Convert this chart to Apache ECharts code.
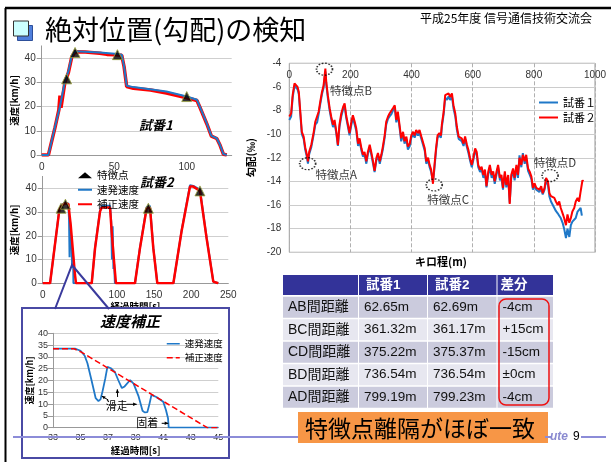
<!DOCTYPE html>
<html><head><meta charset="utf-8">
<script src="https://cdn.jsdelivr.net/npm/echarts@6/dist/echarts.min.js"></script>
<style>html,body{margin:0;padding:0;background:#fff}#c{width:611px;height:462px}</style>
</head><body><div id="c"></div>
<script>
// ================= DATA =================
// 試番1 (top-left) : [time s, speed km/h]
const run1Tacho = [[0,0],[4.6,0],[9.2,11.7],[12.6,20],[16,30.3],[18.4,34.5],[20.7,40.7],[23,42.8],[40,42.3],[50.6,41.8],[55.2,41.4],[56.8,36.5],[58.6,28.6],[63.2,28],[86,26.2],[100,24.1],[107,22.8],[109,20],[113.8,13.1],[117,7.9],[120.7,6.9],[123,4.1],[125.3,0.4],[127.6,0]];
const run1Corr = [[0,0],[4.6,0],[9.2,11.4],[11.8,18.5],[12.6,24.5],[13.3,19.5],[16,30],[18.4,34],[20.7,40.4],[23,42.6],[30,42.5],[40,42],[45,41.5],[50.6,41.3],[55.2,41.1],[56.8,36.4],[58.6,28.2],[63.2,27.5],[75,26.8],[86,25.6],[100,23.6],[107,22.5],[109,19.8],[113.8,12.9],[117,7.8],[120.7,6.8],[123,4],[125.3,0.3],[127.6,0]];
const run1Feat = [[17.2,31.4],[23,42.3],[52.2,41.4],[100,24.1]];

// 試番2 (middle-left)
const run2Tacho = [[0,0],[9.9,0],[22.4,31],[24.7,32.6],[30,34],[34.6,33.5],[35.5,27],[36.2,11],[36.9,26],[37.5,23],[38,17],[38.6,20],[39.2,13],[39.6,6.5],[40.2,14],[41,11],[41.4,0],[66,0],[70.5,15],[77.2,30.6],[79.4,32.6],[90.7,32.6],[92.3,26],[93.3,10],[94.2,24],[95.3,6],[96.3,8],[97.3,0],[124.3,0],[131,15],[140,32],[144.5,32.6],[149,15],[154.4,0],[176,0],[187,22],[198.4,41.3],[202.9,41],[211.8,39.4],[220.8,19.2],[229.8,0.7],[232,0],[236.5,0]];
const run2Corr = [[0,0],[9.9,0],[22.4,30.9],[24.7,32.3],[30,33.7],[34.6,33.3],[37.7,24.6],[40.4,14.7],[43.5,3.5],[44.9,0],[66,0],[70.5,14.7],[77.2,30.2],[79.4,31.9],[90.7,31.9],[92.9,21.8],[96.5,7.7],[98.7,0],[124.3,0],[131,14.7],[140,31.6],[144.5,31.9],[149,14.7],[154.4,0],[176,0],[187,21.8],[198.4,40.7],[202.9,40.7],[211.8,38.9],[220.8,18.9],[229.8,0.7],[232,0],[236.5,0]];
const run2Feat = [[24.7,31.6],[30.6,33.3],[142.3,31.6],[211.8,38.9]];

// 速度補正 (inset)
const zoomTacho = [[33,33.5],[34.6,33.5],[35.0,32.6],[35.3,30.5],[35.5,27.3],[35.8,20],[36.1,12.5],[36.3,11.3],[36.45,12],[36.6,15.5],[36.8,21],[36.95,25.8],[37.2,25.2],[37.5,23.5],[37.75,20],[38.0,16.8],[38.2,17.5],[38.6,20.2],[38.85,18.7],[39.2,13.5],[39.5,7.2],[39.65,6.5],[39.85,6.6],[40.0,10],[40.15,13.9],[40.5,13],[41.0,11],[41.2,7.5],[41.35,4],[41.4,0],[45,0]];
const zoomCorr = [[33,33.5],[34.5,33.5],[35,32.2],[44.2,0],[45,0]];

// 勾配 (right) : [キロ程 m, 勾配 ‰]
const grad2 = [[0,-8.5],[6,-8.25],[11,-6.7],[17,-5.7],[22,-5.6],[27,-6.0],[31,-6.4],[36,-8.1],[41,-9.8],[47,-10.2],[52,-11.1],[58,-11.8],[61,-12.3],[65,-11.5],[72,-10.9],[80,-9.8],[85,-8.95],[91,-8.8],[96,-8.1],[101,-7.3],[107,-6.4],[112,-5.9],[118,-4.45],[121,-5.6],[126,-6.7],[132,-7.8],[137,-8.5],[143,-9.2],[148,-8.8],[154,-9.8],[159,-10.9],[164,-9.2],[170,-8.25],[176,-7.7],[181,-7.4],[186,-8.4],[192,-9.2],[197,-9.9],[203,-8.95],[208,-8.4],[214,-8.95],[219,-9.5],[225,-10.8],[230,-10.35],[236,-11.2],[241,-11.75],[246,-11.5],[252,-12.3],[257,-11.5],[263,-10.9],[268,-11.5],[274,-12.3],[279,-13.1],[285,-12.0],[290,-11.6],[296,-12.3],[301,-11.75],[306,-11.05],[312,-10.1],[317,-8.95],[323,-8.5],[328,-8.25],[334,-8.1],[339,-7.8],[345,-7.55],[350,-8.8],[355,-8.1],[361,-9.3],[366,-10.35],[372,-9.8],[377,-10.6],[383,-10.2],[388,-11.05],[394,-10.8],[399,-10.1],[405,-9.8],[410,-10.1],[415,-9.65],[421,-9.9],[426,-9.65],[432,-10.2],[437,-10.1],[443,-11.2],[448,-12.3],[454,-12.0],[459,-12.6],[464,-13.0],[470,-14.2],[474,-12.9],[480,-11.2],[485,-10.1],[491,-9.9],[496,-10.1],[499,-9.2],[505,-8.1],[510,-6.7],[516,-6.85],[521,-6.55],[526,-6.85],[532,-6.55],[537,-7.55],[543,-8.25],[548,-9.35],[554,-10.2],[559,-10.1],[564,-10.35],[570,-10.8],[575,-10.2],[581,-10.9],[586,-11.35],[591,-12.0],[597,-12.6],[602,-12.0],[608,-11.2],[613,-11.5],[618,-12.6],[624,-13.0],[629,-12.75],[635,-13.45],[640,-13.0],[645,-14.4],[651,-13.15],[656,-12.6],[662,-13.45],[667,-13.15],[672,-14.0],[678,-13.15],[683,-12.6],[689,-13.7],[694,-13.45],[699,-14.55],[705,-13.15],[710,-14.3],[716,-13.45],[721,-15.9],[726,-13.45],[732,-12.9],[737,-13.7],[743,-12.6],[748,-13.45],[753,-12.0],[759,-12.6],[764,-11.75],[770,-12.3],[775,-11.75],[781,-12.9],[786,-13.15],[792,-13.6],[797,-14.55],[802,-14.15],[808,-14.55],[813,-14.4],[818,-14.7],[824,-14.4],[829,-15.0],[835,-14.55],[840,-13.7],[846,-14.0],[851,-15.0],[856,-15.25],[862,-15.4],[867,-15.4],[872,-15.7],[878,-16.0],[883,-15.7],[888,-16.25],[894,-16.7],[899,-17.1],[905,-17.7],[910,-16.8],[916,-17.5],[921,-17.1],[926,-16.55],[932,-16.25],[937,-15.7],[943,-15.4],[948,-15.7],[953,-14.85],[959,-13.9],[962,-14.0]];
const grad1 = [[0,-8.8],[6,-8.5],[11,-6.9],[17,-5.9],[22,-5.8],[27,-6.2],[31,-6.6],[36,-8.3],[41,-10.0],[47,-10.4],[52,-11.3],[58,-12.0],[61,-12.5],[65,-11.7],[72,-11.1],[80,-10.0],[85,-9.2],[91,-9.0],[96,-8.3],[101,-7.5],[107,-6.6],[112,-6.1],[118,-4.7],[121,-5.8],[126,-6.9],[132,-8.0],[137,-8.7],[143,-9.4],[148,-9.0],[154,-10.0],[159,-11.0],[164,-9.4],[170,-8.5],[176,-7.9],[181,-7.6],[186,-8.6],[192,-9.4],[197,-10.1],[203,-9.2],[208,-8.6],[214,-9.2],[219,-9.7],[225,-11.0],[230,-10.6],[236,-11.4],[241,-11.9],[246,-11.7],[252,-12.5],[257,-11.7],[263,-11.1],[268,-11.7],[274,-12.5],[279,-13.2],[285,-12.2],[290,-11.8],[296,-12.5],[301,-11.9],[306,-11.3],[312,-10.3],[317,-9.2],[323,-8.7],[328,-8.5],[334,-8.3],[339,-8.0],[345,-7.8],[350,-9.0],[355,-8.3],[361,-9.5],[366,-10.6],[372,-10.0],[377,-10.8],[383,-10.4],[388,-11.3],[394,-11.0],[399,-10.3],[405,-10.0],[410,-10.3],[415,-9.9],[421,-10.1],[426,-9.9],[432,-10.4],[437,-10.3],[443,-11.4],[448,-12.5],[454,-12.2],[459,-12.8],[464,-13.2],[470,-14.0],[474,-13.1],[480,-11.4],[485,-10.3],[491,-10.1],[496,-10.3],[499,-9.4],[505,-8.3],[510,-6.9],[516,-7.1],[521,-6.8],[526,-7.1],[532,-6.8],[537,-7.8],[543,-8.5],[548,-9.6],[554,-10.4],[559,-10.3],[564,-10.6],[570,-11.0],[575,-10.4],[581,-11.1],[586,-11.6],[591,-12.2],[597,-12.8],[602,-12.2],[608,-11.4],[613,-11.7],[618,-12.8],[624,-13.2],[629,-13.0],[635,-13.7],[640,-13.2],[645,-14.5],[651,-13.4],[656,-12.8],[662,-13.7],[667,-13.4],[672,-14.2],[678,-13.4],[683,-12.8],[689,-13.9],[694,-13.7],[699,-14.7],[705,-13.4],[710,-14.5],[716,-13.7],[721,-15.8],[726,-13.7],[732,-13.1],[737,-13.9],[743,-12.8],[748,-13.7],[753,-11.8],[759,-12.8],[764,-11.6],[770,-12.5],[775,-12.0],[781,-13.1],[786,-13.4],[792,-13.8],[797,-14.7],[802,-14.4],[808,-14.7],[813,-14.6],[818,-14.9],[824,-14.6],[829,-15.1],[835,-14.7],[840,-13.9],[846,-14.3],[851,-15.3],[856,-15.7],[862,-16.0],[867,-16.25],[872,-16.5],[878,-16.7],[883,-16.9],[888,-17.1],[894,-17.5],[899,-18.0],[905,-18.8],[910,-18.0],[916,-18.7],[921,-17.7],[926,-17.4],[932,-17.3],[937,-17.1],[943,-16.55],[948,-16.7],[953,-16.25],[957,-16.9]];

// 特徴点 on gradient chart
const featLabels = ['特徴点A','特徴点B','特徴点C','特徴点D'];
const featKiro = [60, 115, 474, 853];
const featGrad = [-12.5, -4.5, -14.3, -13.5];

// Table
const tableHead = ['', '試番1', '試番2', '差分'];
const tableRows = ['AB間距離','BC間距離','CD間距離','BD間距離','AD間距離'];
const trial1Dist = ['62.65m','361.32m','375.22m','736.54m','799.19m'];
const trial2Dist = ['62.69m','361.17m','375.37m','736.54m','799.23m'];
const distDiff = ['-4cm','+15cm','-15cm','±0cm','-4cm'];

// ================= STYLE / LAYOUT =================
const JP = '"Noto Sans CJK JP", "Noto Sans", sans-serif';
const NUM = '"Liberation Sans", Arial, "Noto Sans CJK JP", sans-serif';
const BLUE = '#1f78c8', RED = '#ff0000';
const featOffsets = [[28.5,10.5],[26.5,21],[14,15],[5,-13]];

function T(text, x, y, size, o) {
  o = o || {};
  return { type: 'text', z: o.z || 10, style: {
    text: text, x: x, y: y,
    font: (o.style || 'normal') + ' ' + (o.weight || 'normal') + ' ' + size + 'px ' + (o.family || JP),
    fill: o.fill || '#000', textAlign: o.align || 'left', textVerticalAlign: 'middle' } };
}
function L(pts, color, w, z) {
  return { type: 'polyline', z: z || 10, shape: { points: pts }, style: { stroke: color, lineWidth: w, fill: null } };
}
function R(x, y, w, h, fill, o) {
  o = o || {};
  return { type: 'rect', z: o.z || 1, shape: { x: x, y: y, width: w, height: h, r: o.r || 0 },
    style: { fill: fill, stroke: o.stroke || null, lineWidth: o.lw || 0 } };
}
function arrow(x1, y1, x2, y2) {
  const a = Math.atan2(y2 - y1, x2 - x1), s = 4;
  const p1 = [x2 - s * Math.cos(a - 0.45), y2 - s * Math.sin(a - 0.45)];
  const p2 = [x2 - s * Math.cos(a + 0.45), y2 - s * Math.sin(a + 0.45)];
  return [L([[x1, y1], [x2, y2]], '#000', 1, 10),
    { type: 'polygon', z: 10, shape: { points: [[x2, y2], p1, p2] }, style: { fill: '#000' } }];
}

const graphics = [];
// slide frame
graphics.push(L([[5, 8], [611, 8]], '#000', 2.5, 0));
graphics.push(L([[5.5, 8], [5.5, 462]], '#000', 2, 0));
// title icon + title
graphics.push(R(17.5, 25.5, 15, 15, '#4f7fdc', { stroke: '#2d4f9a', lw: 1, z: 1 }));
graphics.push(R(13.5, 21, 15, 15, '#ccffff', { stroke: '#333', lw: 1, z: 2 }));
graphics.push(T('絶対位置(勾配)の検知', 45, 30, 27));
graphics.push(T('平成25年度 信号通信技術交流会', 420, 18, 12));
// footer
graphics.push(L([[13, 437], [298, 437]], '#8c8cd8', 2, 0));
graphics.push(L([[545, 437], [551, 437]], '#8c8cd8', 2, 0));
graphics.push(L([[581, 437], [606, 437]], '#8c8cd8', 2, 0));
graphics.push(T('ute', 550, 437, 12, { style: 'italic', weight: 'bold', fill: '#8a8ad0', family: NUM }));
graphics.push(T('9', 573, 437, 12, { family: NUM }));
// callout from chart 2 into inset
graphics.push({ type: 'polygon', z: 3, shape: { points: [[72, 265], [55, 308], [109, 308]] }, style: { fill: '#fff' } });
graphics.push(L([[55, 309], [72, 265], [109, 309]], '#3a3a9c', 2, 5));
graphics.push(R(22, 308, 207, 150, '#fff', { stroke: '#4a4aa4', lw: 2, z: 4 }));
// chart captions
graphics.push(T('試番1', 139, 125, 13, { style: 'italic', weight: 'bold' }));
graphics.push(T('試番2', 140, 182, 13, { style: 'italic', weight: 'bold' }));
graphics.push(T('速度補正', 100, 321, 15, { style: 'italic', weight: 'bold' }));
// inset annotations
graphics.push(T('滑走', 116.7, 406, 11, { align: 'center' }));
graphics.push(T('固着', 147.3, 423.3, 11, { align: 'center' }));
graphics.push(...arrow(108.3, 400, 101.7, 396));
graphics.push(...arrow(117.6, 397, 117.3, 389.3));
graphics.push(...arrow(126.7, 404.3, 136.7, 404.3));
graphics.push(...arrow(161.7, 423.3, 168.3, 423.3));
// right chart x-axis name
graphics.push(T('キロ程(m)', 441, 262, 11, { weight: 'bold', align: 'center' }));

// table
const colX = [283, 358, 427, 496.5, 553];
const headY = 275, headH = 20, rowY0 = 296.7, rowH = 21, rowStep = 22.5;
for (let c = 0; c < 4; c++) {
  graphics.push(R(colX[c] + (c ? 1 : 0), headY, colX[c + 1] - colX[c] - (c ? 1 : 0), headH, '#333399', { z: 1 }));
  if (tableHead[c]) graphics.push(T(tableHead[c], colX[c] + (c === 3 ? 4 : 8), headY + headH / 2, 13.5, { weight: 'bold', fill: '#fff', family: NUM }));
}
const cols = [tableRows, trial1Dist, trial2Dist, distDiff];
for (let r = 0; r < tableRows.length; r++) {
  const y = rowY0 + r * rowStep;
  for (let c = 0; c < 4; c++) {
    graphics.push(R(colX[c] + (c ? 1 : 0), y, colX[c + 1] - colX[c] - (c ? 1 : 0), rowH, r % 2 ? '#e7e7f0' : '#cbcbdd', { z: 1 }));
    graphics.push(T(cols[c][r], colX[c] + (c === 0 ? 5 : 6), y + rowH / 2, c === 0 ? 14 : 13.5, { family: NUM, fill: '#111' }));
  }
}
graphics.push(R(499, 299, 50, 106, null, { stroke: '#ee1111', lw: 1.5, r: 7, z: 12 }));
// orange conclusion box
graphics.push(R(298, 412, 250, 31, '#f79646', { z: 1 }));
graphics.push(T('特徴点離隔がほぼ一致', 305, 428, 23));

// ================= OPTION =================
const axisLbl = { fontSize: 10, color: '#333', fontFamily: NUM };
const nameStyle = { fontSize: 9.5, fontWeight: 'bold', color: '#000', fontFamily: JP };
const grey = { lineStyle: { color: '#999' } };
const splitY = { show: true, showMaxLine: false, lineStyle: { color: '#cfcfcf' } };
const triStyle = { color: '#000', borderColor: '#9aa040', borderWidth: 1 };

const featData = featKiro.map((x, i) => ({
  value: [x, featGrad[i]],
  label: { show: true, formatter: featLabels[i], position: 'inside', offset: featOffsets[i],
    fontSize: 11.5, color: '#000', fontFamily: JP }
}));

const option = {
  animation: false,
  backgroundColor: '#fff',
  graphic: { elements: graphics },
  grid: [
    { left: 41.7, top: 45.9, width: 190, height: 109.1 },
    { left: 42.7, top: 176.4, width: 185.6, height: 106.9 },
    { left: 53, top: 333.3, width: 165.3, height: 94.4, z: 6 },
    { left: 289.3, top: 63.3, width: 305.7, height: 189, show: true, borderColor: '#999', borderWidth: 1 }
  ],
  xAxis: [
    { gridIndex: 0, type: 'value', min: 0, max: 131, interval: 50, axisLine: grey, axisTick: { show: false },
      axisLabel: Object.assign({ margin: 7, showMaxLabel: false }, axisLbl), splitLine: { show: false } },
    { gridIndex: 1, type: 'value', min: 0, max: 250, interval: 50, axisLine: grey, axisTick: { show: false },
      axisLabel: Object.assign({ margin: 7 }, axisLbl), splitLine: { show: false },
      name: '経過時間[s]', nameLocation: 'middle', nameGap: 17, nameTextStyle: nameStyle },
    { gridIndex: 2, type: 'value', min: 33, max: 45, interval: 1, z: 6, axisLine: grey, axisTick: { show: false },
      axisLabel: Object.assign({ margin: 5, formatter: v => (v % 2 === 1 ? String(v) : '') }, axisLbl, { fontSize: 9 }),
      splitLine: { show: false },
      name: '経過時間[s]', nameLocation: 'middle', nameGap: 18, nameTextStyle: nameStyle },
    { gridIndex: 3, type: 'value', min: 0, max: 1000, interval: 200, position: 'top',
      axisLine: { show: false }, axisTick: { show: false },
      axisLabel: Object.assign({ inside: true, margin: 7, formatter: v => String(v) }, axisLbl),
      splitLine: { show: true, lineStyle: { color: '#b0b0b0', type: 'dashed' } } }
  ],
  yAxis: [
    { gridIndex: 0, type: 'value', min: 0, max: 45, interval: 10, axisLine: { show: true, lineStyle: { color: '#999' } },
      axisLabel: Object.assign({ margin: 6, showMaxLabel: false }, axisLbl), splitLine: splitY,
      name: '速度[km/h]', nameLocation: 'middle', nameGap: 23, nameTextStyle: nameStyle },
    { gridIndex: 1, type: 'value', min: 0, max: 45, interval: 10, axisLine: { show: true, lineStyle: { color: '#999' } },
      axisLabel: Object.assign({ margin: 6, showMaxLabel: false }, axisLbl), splitLine: splitY,
      name: '速度[km/h]', nameLocation: 'middle', nameGap: 24, nameTextStyle: nameStyle },
    { gridIndex: 2, type: 'value', min: 0, max: 40, interval: 5, z: 6, axisLine: { show: true, lineStyle: { color: '#999' } },
      axisLabel: Object.assign({ margin: 5 }, axisLbl, { fontSize: 9 }), splitLine: { show: true, lineStyle: { color: '#cfcfcf' } },
      name: '速度[km/h]', nameLocation: 'middle', nameGap: 16, nameTextStyle: Object.assign({}, nameStyle, { fontSize: 9 }) },
    { gridIndex: 3, type: 'value', min: -20, max: -4, interval: 2, axisLine: { show: false }, axisTick: { show: false },
      axisLabel: Object.assign({ margin: 8 }, axisLbl), splitLine: { show: true, lineStyle: { color: '#cccccc' } },
      name: '勾配(‰)', nameLocation: 'middle', nameGap: 27, nameTextStyle: Object.assign({}, nameStyle, { fontSize: 10.5 }) }
  ],
  legend: [
    { data: [{ name: '特徴点', icon: 'triangle', itemStyle: { opacity: 1, borderWidth: 0 } }, '速発速度', '補正速度'],
      orient: 'vertical', left: 77, top: 170,
      itemWidth: 14, itemHeight: 6, itemGap: 4, textStyle: { fontSize: 10.5, fontFamily: JP, color: '#000' },
      itemStyle: { opacity: 0 }, lineStyle: { width: 2 }, selectedMode: false, padding: 0 },
    { data: ['速発速度', { name: '補正速度', lineStyle: { type: 'dashed', width: 1.5 } }], orient: 'vertical', left: 166, top: 339,
      itemWidth: 13, itemHeight: 8, itemGap: 4.5, textStyle: { fontSize: 9.5, fontFamily: JP, color: '#000' },
      itemStyle: { opacity: 0 }, lineStyle: { width: 1.5 }, selectedMode: false, padding: 0, z: 8 },
    { data: ['試番１', '試番２'], orient: 'vertical', left: 538, top: 97, itemWidth: 19, itemHeight: 12, itemGap: 4,
      textStyle: { fontSize: 11, fontFamily: JP, color: '#000' }, itemStyle: { opacity: 0 }, lineStyle: { width: 2 },
      selectedMode: false, padding: 0 }
  ],
  series: [
    // chart 1
    { name: '補正速度', type: 'line', xAxisIndex: 0, yAxisIndex: 0, data: run1Corr, symbol: 'none',
      lineStyle: { color: RED, width: 3.5 }, itemStyle: { color: RED } },
    { name: '速発速度', type: 'line', xAxisIndex: 0, yAxisIndex: 0, data: run1Tacho, symbol: 'none',
      lineStyle: { color: BLUE, width: 2 }, itemStyle: { color: BLUE } },
    { name: '特徴点', type: 'scatter', xAxisIndex: 0, yAxisIndex: 0, data: run1Feat, symbol: 'triangle', symbolSize: 10,
      itemStyle: triStyle, z: 4 },
    // chart 2
    { name: '速発速度', type: 'line', xAxisIndex: 1, yAxisIndex: 1, data: run2Tacho, symbol: 'none',
      lineStyle: { color: BLUE, width: 2 }, itemStyle: { color: BLUE } },
    { name: '補正速度', type: 'line', xAxisIndex: 1, yAxisIndex: 1, data: run2Corr, symbol: 'none',
      lineStyle: { color: RED, width: 2.5 }, itemStyle: { color: RED } },
    { name: '特徴点', type: 'scatter', xAxisIndex: 1, yAxisIndex: 1, data: run2Feat, symbol: 'triangle', symbolSize: 10,
      itemStyle: triStyle, z: 4 },
    // inset
    { name: '速発速度', type: 'line', xAxisIndex: 2, yAxisIndex: 2, data: zoomTacho, symbol: 'none', z: 7,
      lineStyle: { color: BLUE, width: 1.8 }, itemStyle: { color: BLUE } },
    { name: '補正速度', type: 'line', xAxisIndex: 2, yAxisIndex: 2, data: zoomCorr, symbol: 'none', z: 7,
      lineStyle: { color: RED, width: 1.5, type: 'dashed' }, itemStyle: { color: RED } },
    // right chart
    { name: '試番１', type: 'line', xAxisIndex: 3, yAxisIndex: 3, data: grad1, symbol: 'none',
      lineStyle: { color: BLUE, width: 2 }, itemStyle: { color: BLUE } },
    { name: '試番２', type: 'line', xAxisIndex: 3, yAxisIndex: 3, data: grad2, symbol: 'none',
      lineStyle: { color: RED, width: 2 }, itemStyle: { color: RED } },
    { name: '特徴点位置', type: 'scatter', xAxisIndex: 3, yAxisIndex: 3, data: featData, symbol: 'circle',
      symbolSize: [16, 12], z: 5,
      itemStyle: { color: 'rgba(0,0,0,0)', borderColor: '#000', borderWidth: 1.5, borderType: 'dotted' } }
  ]
};

const chart = echarts.init(document.getElementById('c'), null, { renderer: 'canvas' });
chart.setOption(option);
</script>
</body></html>
